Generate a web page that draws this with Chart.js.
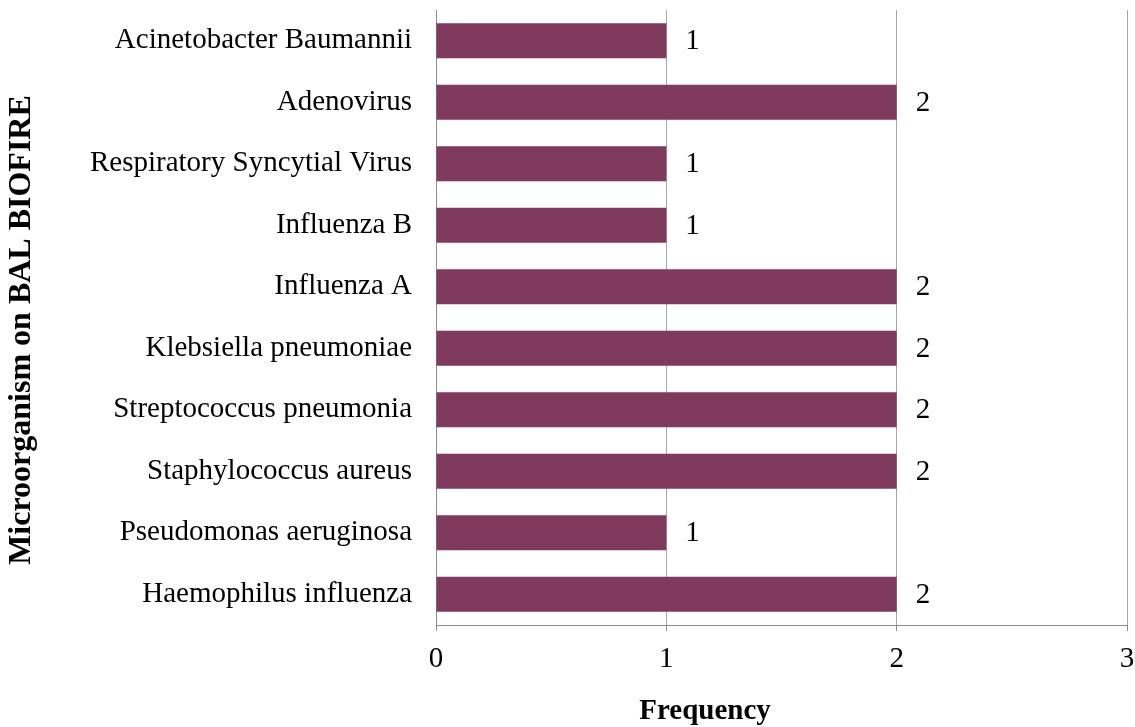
<!DOCTYPE html>
<html>
<head>
<meta charset="utf-8">
<script src="https://cdn.jsdelivr.net/npm/chart.js@4/dist/chart.umd.min.js"></script>
<style>
  html, body { margin: 0; padding: 0; background: #fff; }
  #wrap { width: 1135px; height: 727px; position: relative; }
</style>
</head>
<body>
<div id="wrap"><canvas id="myChart"></canvas></div>
<script>
  // data, top to bottom as in the picture
  const organisms = [
    "Acinetobacter Baumannii",
    "Adenovirus",
    "Respiratory Syncytial Virus",
    "Influenza B",
    "Influenza A",
    "Klebsiella pneumoniae",
    "Streptococcus pneumonia",
    "Staphylococcus aureus",
    "Pseudomonas aeruginosa",
    "Haemophilus influenza"
  ];
  const frequency = [1, 2, 1, 1, 2, 2, 2, 2, 1, 2];
  const xTicks = [0, 1, 2, 3];
  const xTitle = 'Frequency';
  const yTitle = 'Microorganism on BAL BIOFIRE';

  const SERIF = "'Liberation Serif', 'Times New Roman', serif";
  const BAR = '#7f3a5e';
  const GRID = '#a6a6a6';
  const AXIS = '#8c8c8c';

  // value labels right of each bar + the two axis titles
  const extras = {
    id: 'extras',
    afterDatasetsDraw(chart) {
      const ctx = chart.ctx;
      const meta = chart.getDatasetMeta(0);
      ctx.save();
      ctx.font = '29px ' + SERIF;
      ctx.fillStyle = '#000';
      ctx.textAlign = 'left';
      ctx.textBaseline = 'middle';
      meta.data.forEach((bar, i) => {
        ctx.fillText(String(frequency[i]), bar.x + 19, bar.y + 1);
      });
      ctx.restore();
    },
    afterDraw(chart) {
      const ctx = chart.ctx;
      ctx.save();
      ctx.fillStyle = '#000';
      ctx.textAlign = 'center';
      ctx.textBaseline = 'middle';
      ctx.font = 'bold 29px ' + SERIF;
      ctx.fillText(xTitle, 705, 712);
      ctx.translate(22, 330);
      ctx.rotate(-Math.PI / 2);
      ctx.font = 'bold 32px ' + SERIF;
      ctx.fillText(yTitle, 0, 0);
      ctx.restore();
    }
  };

  new Chart(document.getElementById('myChart'), {
    type: 'bar',
    data: {
      labels: organisms,
      datasets: [{
        data: frequency,
        backgroundColor: BAR,
        borderWidth: 0,
        barPercentage: 0.57,
        categoryPercentage: 1
      }]
    },
    options: {
      indexAxis: 'y',
      responsive: true,
      maintainAspectRatio: false,
      animation: false,
      layout: { padding: { top: 10, right: 8, left: 0, bottom: 0 } },
      plugins: {
        legend: { display: false },
        tooltip: { enabled: false }
      },
      scales: {
        x: {
          min: 0,
          max: 3,
          afterBuildTicks: (scale) => { scale.ticks = xTicks.map(v => ({ value: v })); },
          afterFit: (scale) => {
            scale.height = 102;
            scale.paddingLeft = 0;
            scale.paddingRight = 0;
          },
          grid: { color: GRID, lineWidth: 1, drawTicks: true, tickLength: 6, tickColor: AXIS },
          border: { display: true, color: AXIS, width: 1 },
          ticks: { color: '#000', font: { family: SERIF, size: 29 }, padding: 11 }
        },
        y: {
          afterFit: (scale) => {
            scale.width = 436;
            scale.paddingTop = 0;
            scale.paddingBottom = 0;
          },
          grid: { display: false },
          border: { display: true, color: AXIS, width: 1 },
          ticks: { color: '#000', font: { family: SERIF, size: 29 }, padding: 16 }
        }
      }
    },
    plugins: [extras]
  });
</script>
</body>
</html>
